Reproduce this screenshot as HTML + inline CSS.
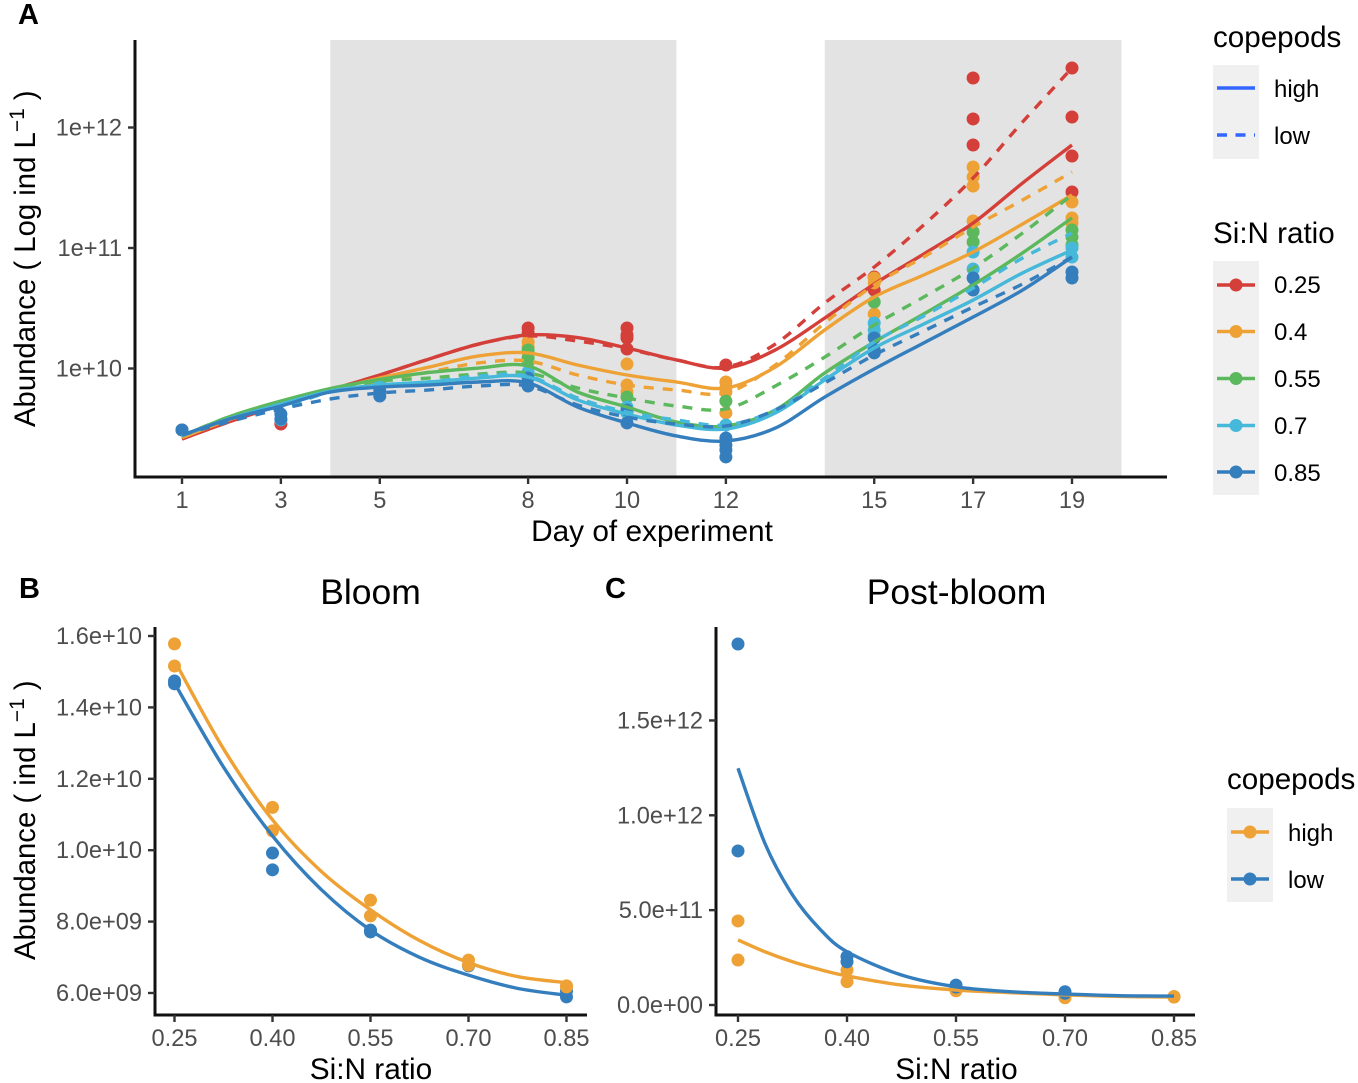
<!DOCTYPE html>
<html lang="en">
<head>
<meta charset="utf-8">
<title>Abundance by day and Si:N ratio</title>
<style>
html,body{margin:0;padding:0;background:#fff;width:1358px;height:1083px;overflow:hidden}
svg{display:block;font-family:"Liberation Sans",Arial,sans-serif}
.tick{font-size:23.6px;fill:#4d4d4d}
.axt{font-size:29.8px;fill:#000}
.axy{font-size:29.3px;fill:#000}
.lgt{font-size:29.6px;fill:#000}
.lgl{font-size:24px;fill:#000}
.tag{font-size:29px;font-weight:bold;fill:#000}
.ttl{font-size:35.5px;fill:#000}
</style>
</head>
<body>
<svg id="figure" width="1358" height="1083" viewBox="0 0 1358 1083" xmlns="http://www.w3.org/2000/svg">
  <g id="panelA"></g>
  <g id="panelB"></g>
  <g id="panelC"></g>

  <text class="tag" x="18" y="24">A</text>
  <text class="tag" x="19" y="598">B</text>
  <text class="tag" x="605" y="598">C</text>

  <text class="axt" x="652" y="541" text-anchor="middle">Day of experiment</text>
  <text class="axy" transform="translate(35,427) rotate(-90)">Abundance ( Log ind L<tspan font-size="21" dy="-11">−1</tspan><tspan dy="11"> )</tspan></text>

  <text class="ttl" x="370.5" y="604" text-anchor="middle">Bloom</text>
  <text class="axt" x="371" y="1079" text-anchor="middle">Si:N ratio</text>
  <text class="axy" transform="translate(35,960) rotate(-90)">Abundance ( ind L<tspan font-size="21" dy="-11">−1</tspan><tspan dy="11"> )</tspan></text>

  <text class="ttl" x="956.5" y="604" text-anchor="middle">Post-bloom</text>
  <text class="axt" x="956.5" y="1079" text-anchor="middle">Si:N ratio</text>

  <g>
    <text class="lgt" x="1213" y="47">copepods</text>
    <rect x="1213" y="65" width="46" height="94" fill="#f0f0f0"/>
    <line x1="1217" x2="1255" y1="88" y2="88" stroke="#3366ff" stroke-width="3.4"/>
    <line x1="1217" x2="1255" y1="135" y2="135" stroke="#3366ff" stroke-width="3.4" stroke-dasharray="10 8.5"/>
    <text class="lgl" x="1274" y="97">high</text>
    <text class="lgl" x="1274" y="144">low</text>
  </g>

  <g>
    <text class="lgt" x="1213" y="243">Si:N ratio</text>
    <rect x="1213" y="261" width="46" height="234" fill="#f0f0f0"/>
    <g>
      <line x1="1217" x2="1255" y1="285" y2="285" stroke="#d43f3a" stroke-width="3.4"/><circle cx="1236" cy="285" r="6.5" fill="#d43f3a"/>
      <text class="lgl" x="1274" y="293">0.25</text>
    </g>
    <g>
      <line x1="1217" x2="1255" y1="331.500" y2="331.500" stroke="#eea236" stroke-width="3.4"/><circle cx="1236" cy="331.500" r="6.5" fill="#eea236"/>
      <text class="lgl" x="1274" y="340">0.4</text>
    </g>
    <g>
      <line x1="1217" x2="1255" y1="378.500" y2="378.500" stroke="#5cb85c" stroke-width="3.4"/><circle cx="1236" cy="378.500" r="6.5" fill="#5cb85c"/>
      <text class="lgl" x="1274" y="387">0.55</text>
    </g>
    <g>
      <line x1="1217" x2="1255" y1="425.500" y2="425.500" stroke="#46b8da" stroke-width="3.4"/><circle cx="1236" cy="425.500" r="6.5" fill="#46b8da"/>
      <text class="lgl" x="1274" y="434">0.7</text>
    </g>
    <g>
      <line x1="1217" x2="1255" y1="472" y2="472" stroke="#357ebd" stroke-width="3.4"/><circle cx="1236" cy="472" r="6.5" fill="#357ebd"/>
      <text class="lgl" x="1274" y="481">0.85</text>
    </g>
  </g>

  <g>
    <text class="lgt" x="1227" y="789">copepods</text>
    <rect x="1227" y="808" width="46" height="94" fill="#f0f0f0"/>
    <g>
      <line x1="1231" x2="1269" y1="832" y2="832" stroke="#eea236" stroke-width="3.4"/><circle cx="1250" cy="832" r="6.5" fill="#eea236"/>
      <text class="lgl" x="1288" y="841">high</text>
    </g>
    <g>
      <line x1="1231" x2="1269" y1="879" y2="879" stroke="#357ebd" stroke-width="3.4"/><circle cx="1250" cy="879" r="6.5" fill="#357ebd"/>
      <text class="lgl" x="1288" y="888">low</text>
    </g>
  </g>
</svg>

<script>
// ===== Panel A data (abundance as log10 ind/L) =====
const dayTicks = [1, 3, 5, 8, 10, 12, 15, 17, 19];
const logTicks = [10, 11, 12];
const logTickLabels = ['1e+10', '1e+11', '1e+12'];
const bandStartDays = [4, 14];
const bandEndDays = [11, 20];
const curveDays = [1, 2, 3, 4, 5, 6, 7, 8, 9, 10, 11, 12, 13, 14, 15, 16, 17, 18, 19];

const red25High = [9.415, 9.564, 9.697, 9.822, 9.946, 10.079, 10.203, 10.278, 10.257, 10.17, 10.071, 10.004, 10.154, 10.419, 10.701, 10.95, 11.207, 11.539, 11.855];
const red25Low = [9.415, 9.564, 9.697, 9.822, 9.946, 10.079, 10.203, 10.27, 10.228, 10.162, 10.071, 10.012, 10.203, 10.544, 10.842, 11.191, 11.581, 12.046, 12.494];
const orange40High = [9.427, 9.581, 9.705, 9.822, 9.921, 10.012, 10.104, 10.129, 10.029, 9.946, 9.888, 9.838, 10.012, 10.32, 10.593, 10.776, 10.967, 11.199, 11.44];
const orange40Low = [9.427, 9.581, 9.697, 9.813, 9.896, 9.971, 10.046, 10.062, 9.946, 9.863, 9.822, 9.797, 10.029, 10.378, 10.693, 10.925, 11.174, 11.398, 11.631];
const green55High = [9.44, 9.606, 9.73, 9.834, 9.909, 9.967, 10.004, 10.021, 9.805, 9.68, 9.556, 9.523, 9.656, 9.963, 10.22, 10.452, 10.693, 10.959, 11.249];
const green55Low = [9.44, 9.606, 9.714, 9.83, 9.896, 9.921, 9.954, 9.963, 9.838, 9.755, 9.689, 9.664, 9.855, 10.095, 10.361, 10.593, 10.834, 11.124, 11.44];
const sky70High = [9.444, 9.589, 9.705, 9.813, 9.863, 9.888, 9.921, 9.929, 9.739, 9.622, 9.531, 9.498, 9.631, 9.905, 10.17, 10.369, 10.568, 10.793, 10.983];
const sky70Low = [9.444, 9.585, 9.672, 9.805, 9.863, 9.888, 9.938, 9.938, 9.755, 9.639, 9.573, 9.531, 9.656, 9.921, 10.22, 10.436, 10.668, 10.917, 11.124];
const blue85High = [9.448, 9.585, 9.689, 9.805, 9.846, 9.863, 9.888, 9.88, 9.68, 9.548, 9.44, 9.398, 9.506, 9.763, 9.996, 10.212, 10.427, 10.651, 10.925];
const blue85Low = [9.448, 9.564, 9.664, 9.747, 9.797, 9.822, 9.855, 9.855, 9.697, 9.597, 9.539, 9.523, 9.656, 9.88, 10.112, 10.311, 10.51, 10.701, 10.925];

const redObsDays = [1, 3, 8, 8, 10, 10, 10, 10, 12, 15, 15, 17, 17, 17, 19, 19, 19, 19];
const redObsValues = [9.49, 9.539, 10.336, 10.295, 10.336, 10.278, 10.253, 10.162, 10.029, 10.759, 10.651, 12.411, 12.071, 11.855, 12.494, 12.087, 11.763, 11.465];
const orangeObsDays = [1, 5, 8, 8, 8, 10, 10, 10, 12, 12, 12, 12, 15, 15, 15, 17, 17, 17, 17, 19, 19, 19];
const orangeObsValues = [9.49, 9.88, 10.22, 10.178, 10.137, 10.037, 9.863, 9.805, 9.888, 9.838, 9.805, 9.631, 10.751, 10.71, 10.452, 11.672, 11.589, 11.514, 11.224, 11.382, 11.249, 11.207];
const greenObsDays = [1, 5, 8, 8, 8, 10, 12, 15, 17, 17, 19, 19, 19];
const greenObsValues = [9.49, 9.871, 10.154, 10.087, 10.054, 9.763, 9.73, 10.552, 11.133, 11.05, 11.149, 11.091, 11.025];
const skyObsDays = [1, 3, 5, 8, 8, 10, 10, 12, 15, 15, 15, 17, 17, 19, 19];
const skyObsValues = [9.49, 9.573, 9.863, 9.971, 9.929, 9.68, 9.631, 9.531, 10.378, 10.32, 10.27, 10.967, 10.826, 11.0, 10.925];
const blueObsDays = [1, 3, 3, 5, 5, 8, 8, 10, 10, 12, 12, 12, 12, 15, 15, 15, 17, 17, 19, 19];
const blueObsValues = [9.49, 9.622, 9.581, 9.813, 9.772, 9.921, 9.855, 9.655, 9.548, 9.423, 9.365, 9.324, 9.266, 10.253, 10.154, 10.129, 10.751, 10.651, 10.801, 10.751];

// ===== Panel B data (units of 1e9 ind/L) =====
const ratioTicks = [0.25, 0.40, 0.55, 0.70, 0.85];
const ratioTickLabels = ['0.25', '0.40', '0.55', '0.70', '0.85'];
const bloomTicks = [6, 8, 10, 12, 14, 16];
const bloomTickLabels = ['6.0e+09', '8.0e+09', '1.0e+10', '1.2e+10', '1.4e+10', '1.6e+10'];
const fitRatios = [0.25, 0.325, 0.40, 0.475, 0.55, 0.625, 0.70, 0.775, 0.85];
const bloomFitHigh = [15.31, 12.84, 10.85, 9.4, 8.33, 7.47, 6.85, 6.46, 6.29];
const bloomFitLow = [14.68, 12.33, 10.4, 8.89, 7.76, 7.0, 6.5, 6.13, 5.94];
const bloomObsRatios = [0.25, 0.25, 0.40, 0.40, 0.55, 0.55, 0.70, 0.70, 0.85, 0.85];
const bloomObsLow = [14.74, 14.66, 9.92, 9.45, 7.76, 7.71, 6.78, 6.76, 6.06, 5.89];
const bloomObsHigh = [15.78, 15.16, 11.2, 10.54, 8.6, 8.16, 6.92, 6.78, 6.2, 6.17];

// ===== Panel C data (units of 1e11 ind/L) =====
const postTicks = [0, 5, 10, 15];
const postTickLabels = ['0.0e+00', '5.0e+11', '1.0e+12', '1.5e+12'];
const postFitRatios = [0.25, 0.2875, 0.325, 0.3625, 0.40, 0.475, 0.55, 0.625, 0.70, 0.775, 0.85];
const postFitHigh = [3.43, 2.8, 2.28, 1.87, 1.53, 1.05, 0.79, 0.65, 0.53, 0.45, 0.42];
const postFitLow = [12.48, 8.48, 5.8, 4.01, 2.81, 1.58, 0.96, 0.7, 0.58, 0.49, 0.47];
const postObsRatios = [0.25, 0.25, 0.40, 0.40, 0.55, 0.55, 0.70, 0.70, 0.85, 0.85];
const postObsHigh = [4.43, 2.37, 1.84, 1.23, 0.9, 0.75, 0.53, 0.38, 0.44, 0.42];
const postObsLow = [19.03, 8.12, 2.55, 2.28, 1.05, 0.95, 0.7, 0.62, 0.47, 0.44];

// ===== Styling and scales =====
const RED = '#d43f3a', ORANGE = '#eea236', GREEN = '#5cb85c', SKY = '#46b8da', BLUE = '#357ebd';
const INK = '#111111', TICK = '#333333';
const NS = 'http://www.w3.org/2000/svg';

function xA(day) { return 182 + (day - 1) * 890 / 18; }
function yA(logValue) { return 368.5 - (logValue - 10) * 120.5; }
function xB(ratio) { return 174.5 + (ratio - 0.25) * 392 / 0.6; }
function yB(v) { return 993 - (v - 6) * 35.7; }
function xC(ratio) { return 738 + (ratio - 0.25) * 436 / 0.6; }
function yC(v) { return 1005 - v * 18.97; }

function make(tag, props, parent) {
  const node = document.createElementNS(NS, tag);
  for (const key in props) node.setAttribute(key, props[key]);
  parent.appendChild(node);
  return node;
}

function smoothPath(xs, ys, xScale, yScale) {
  const pts = xs.map(function (x, i) { return [xScale(x), yScale(ys[i])]; });
  let d = 'M' + pts[0][0].toFixed(2) + ' ' + pts[0][1].toFixed(2);
  for (let i = 0; i < pts.length - 1; i++) {
    const p0 = pts[Math.max(i - 1, 0)], p1 = pts[i], p2 = pts[i + 1], p3 = pts[Math.min(i + 2, pts.length - 1)];
    const c1x = p1[0] + (p2[0] - p0[0]) / 6, c1y = p1[1] + (p2[1] - p0[1]) / 6;
    const c2x = p2[0] - (p3[0] - p1[0]) / 6, c2y = p2[1] - (p3[1] - p1[1]) / 6;
    d += 'C' + c1x.toFixed(2) + ' ' + c1y.toFixed(2) + ' ' + c2x.toFixed(2) + ' ' + c2y.toFixed(2) + ' ' + p2[0].toFixed(2) + ' ' + p2[1].toFixed(2);
  }
  return d;
}

function drawCurve(parent, name, xs, ys, xScale, yScale, color, dashed) {
  const props = { d: smoothPath(xs, ys, xScale, yScale), fill: 'none', stroke: color, 'stroke-width': 3.4 };
  if (dashed) props['stroke-dasharray'] = '10 9';
  const path = make('path', props, parent);
  
  
}

function drawPoints(parent, name, xs, ys, xScale, yScale, color) {
  xs.forEach(function (x, i) {
    const dot = make('circle', { cx: xScale(x), cy: yScale(ys[i]), r: 6.5, fill: color }, parent);
    
    
  });
}

function drawAxes(parent, prefix, box, xVals, xLabels, xScale, yVals, yLabels, yScale) {
  const xAxis = make('line', { x1: box.left - 1.5, x2: box.right, y1: box.bottom, y2: box.bottom, stroke: INK, 'stroke-width': 3 }, parent);
  
  
  const yAxis = make('line', { x1: box.left, x2: box.left, y1: box.top, y2: box.bottom + 1.5, stroke: INK, 'stroke-width': 3 }, parent);
  
  
  xVals.forEach(function (v, i) {
    const tick = make('line', { x1: xScale(v), x2: xScale(v), y1: box.bottom, y2: box.bottom + 7, stroke: TICK, 'stroke-width': 2.4 }, parent);
    
    
    const label = make('text', { class: 'tick', x: xScale(v), y: box.bottom + 31, 'text-anchor': 'middle' }, parent);
    label.textContent = xLabels[i];
    
    
  });
  yVals.forEach(function (v, i) {
    const tick = make('line', { x1: box.left - 7, x2: box.left, y1: yScale(v), y2: yScale(v), stroke: TICK, 'stroke-width': 2.4 }, parent);
    
    
    const label = make('text', { class: 'tick', x: box.left - 13, y: yScale(v) + 8, 'text-anchor': 'end' }, parent);
    label.textContent = yLabels[i];
    
    
  });
}

// ===== Panel A =====
const panelA = document.getElementById('panelA');
bandStartDays.forEach(function (start, i) {
  const band = make('rect', { x: xA(start), y: 40, width: xA(bandEndDays[i]) - xA(start), height: 437, fill: '#e3e3e3' }, panelA);
  
  
});
drawPoints(panelA, 'observation-0-25', redObsDays, redObsValues, xA, yA, RED);
drawPoints(panelA, 'observation-0-4', orangeObsDays, orangeObsValues, xA, yA, ORANGE);
drawPoints(panelA, 'observation-0-55', greenObsDays, greenObsValues, xA, yA, GREEN);
drawPoints(panelA, 'observation-0-7', skyObsDays, skyObsValues, xA, yA, SKY);
drawPoints(panelA, 'observation-0-85', blueObsDays, blueObsValues, xA, yA, BLUE);
drawCurve(panelA, 'curve-0-25-high', curveDays, red25High, xA, yA, RED, false);
drawCurve(panelA, 'curve-0-25-low', curveDays, red25Low, xA, yA, RED, true);
drawCurve(panelA, 'curve-0-4-high', curveDays, orange40High, xA, yA, ORANGE, false);
drawCurve(panelA, 'curve-0-4-low', curveDays, orange40Low, xA, yA, ORANGE, true);
drawCurve(panelA, 'curve-0-55-high', curveDays, green55High, xA, yA, GREEN, false);
drawCurve(panelA, 'curve-0-55-low', curveDays, green55Low, xA, yA, GREEN, true);
drawCurve(panelA, 'curve-0-7-high', curveDays, sky70High, xA, yA, SKY, false);
drawCurve(panelA, 'curve-0-7-low', curveDays, sky70Low, xA, yA, SKY, true);
drawCurve(panelA, 'curve-0-85-high', curveDays, blue85High, xA, yA, BLUE, false);
drawCurve(panelA, 'curve-0-85-low', curveDays, blue85Low, xA, yA, BLUE, true);
drawAxes(panelA, 'panel-a', { left: 135, right: 1167, top: 40, bottom: 477 }, dayTicks, dayTicks, xA, logTicks, logTickLabels, yA);

// ===== Panel B =====
const panelB = document.getElementById('panelB');
drawPoints(panelB, 'bloom-observation-low', bloomObsRatios, bloomObsLow, xB, yB, BLUE);
drawPoints(panelB, 'bloom-observation-high', bloomObsRatios, bloomObsHigh, xB, yB, ORANGE);
drawCurve(panelB, 'bloom-fit-low', fitRatios, bloomFitLow, xB, yB, BLUE, false);
drawCurve(panelB, 'bloom-fit-high', fitRatios, bloomFitHigh, xB, yB, ORANGE, false);
drawAxes(panelB, 'panel-b', { left: 155, right: 587, top: 627, bottom: 1015 }, ratioTicks, ratioTickLabels, xB, bloomTicks, bloomTickLabels, yB);

// ===== Panel C =====
const panelC = document.getElementById('panelC');
drawPoints(panelC, 'post-bloom-observation-high', postObsRatios, postObsHigh, xC, yC, ORANGE);
drawPoints(panelC, 'post-bloom-observation-low', postObsRatios.slice(0, 8), postObsLow.slice(0, 8), xC, yC, BLUE);
drawPoints(panelC, 'post-bloom-observation-high-last', postObsRatios.slice(8), postObsHigh.slice(8), xC, yC, ORANGE);
drawCurve(panelC, 'post-bloom-fit-high', postFitRatios, postFitHigh, xC, yC, ORANGE, false);
drawCurve(panelC, 'post-bloom-fit-low', postFitRatios, postFitLow, xC, yC, BLUE, false);
drawAxes(panelC, 'panel-c', { left: 716, right: 1195, top: 627, bottom: 1015 }, ratioTicks, ratioTickLabels, xC, postTicks, postTickLabels, yC);
</script>
</body>
</html>
